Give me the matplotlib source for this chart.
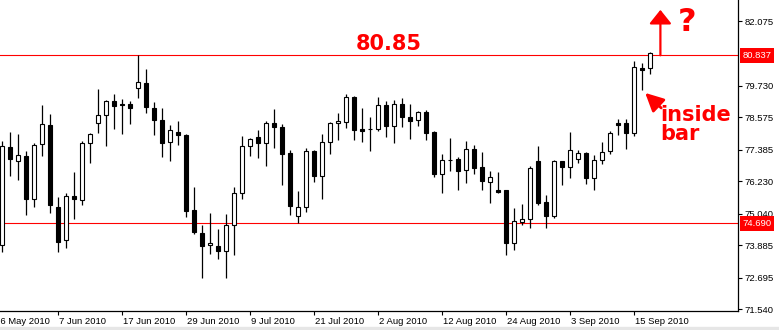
import matplotlib
matplotlib.use("Agg")
import matplotlib.pyplot as plt
import pandas as pd

# daily candles, 27 May 2010 .. 17 Sep 2010
opens = [73.89, 77.47, 76.96, 77.14, 75.56, 77.58, 78.28, 75.28, 74.06, 75.68,
         75.53, 77.62, 78.35, 78.64, 79.15, 79.06, 79.04, 79.63, 79.81, 78.90,
         78.46, 77.65, 78.03, 77.92, 75.17, 74.34, 73.89, 73.85, 73.67, 74.62,
         75.78, 77.51, 77.84, 77.61, 78.36, 78.21, 77.26, 74.95, 75.28, 77.34,
         76.43, 77.65, 78.35, 78.39, 79.31, 78.14, 78.13, 78.15, 79.02, 78.26,
         79.06, 78.58, 78.48, 78.76, 78.03, 76.51, 77.00, 77.04, 76.63, 77.41,
         76.75, 76.19, 75.90, 75.91, 73.96, 74.73, 74.84, 76.96, 75.47, 74.97,
         76.97, 76.74, 77.03, 77.26, 76.34, 77.00, 77.32, 78.36, 78.36, 78.01,
         80.36, 80.36]
highs = [77.70, 78.03, 77.96, 77.34, 77.62, 79.02, 78.69, 75.65, 75.79, 76.57,
         77.70, 78.00, 79.61, 79.19, 79.42, 79.24, 79.15, 80.84, 80.34, 79.13,
         78.90, 78.29, 78.43, 77.96, 76.02, 74.63, 75.07, 74.48, 75.03, 76.02,
         77.89, 77.81, 78.11, 78.45, 78.87, 78.32, 77.37, 75.87, 77.43, 77.36,
         77.97, 78.41, 78.73, 79.43, 79.35, 78.91, 78.58, 79.31, 79.17, 79.20,
         79.28, 79.06, 78.81, 78.84, 78.07, 77.23, 77.81, 77.12, 77.70, 77.56,
         77.30, 76.61, 76.57, 75.92, 75.25, 75.40, 76.79, 77.52, 75.73, 77.01,
         76.98, 78.03, 77.37, 77.28, 77.19, 77.67, 78.07, 78.51, 78.51, 80.63,
         80.57, 80.97]
lows = [73.65, 76.43, 76.29, 75.01, 75.30, 77.17, 75.08, 73.65, 73.80, 74.86,
        75.37, 76.91, 78.00, 77.50, 78.15, 77.97, 78.34, 79.29, 78.74, 77.93,
        77.13, 76.98, 77.56, 74.93, 74.29, 72.67, 73.58, 73.40, 72.70, 73.54,
        75.59, 77.15, 77.09, 76.80, 77.46, 76.10, 75.01, 74.69, 75.11, 76.19,
        75.56, 77.21, 77.75, 78.19, 77.75, 77.68, 77.35, 78.08, 77.86, 77.64,
        78.23, 77.79, 78.26, 77.75, 76.40, 75.81, 76.62, 75.92, 76.18, 76.51,
        75.92, 75.45, 75.81, 73.54, 73.73, 74.64, 74.53, 75.37, 74.50, 74.90,
        76.10, 76.33, 76.91, 76.14, 75.89, 76.87, 77.24, 77.93, 77.42, 77.90,
        79.58, 80.17]
closes = [77.51, 77.03, 77.18, 75.56, 77.54, 78.31, 75.37, 74.02, 75.68, 75.56,
          77.62, 77.95, 78.64, 79.15, 78.97, 79.01, 78.92, 79.85, 78.93, 78.46,
          77.64, 78.09, 77.91, 75.15, 74.36, 73.87, 73.97, 73.67, 74.62, 75.79,
          77.51, 77.76, 77.61, 78.35, 78.23, 77.24, 75.34, 75.29, 77.34, 76.43,
          77.67, 78.36, 78.43, 79.31, 78.12, 78.08, 78.13, 79.02, 78.26, 79.06,
          78.59, 78.45, 78.76, 78.01, 76.51, 77.01, 77.00, 76.62, 77.41, 76.73,
          76.22, 76.39, 75.84, 73.95, 74.76, 74.84, 76.71, 75.43, 74.97, 76.97,
          76.76, 77.36, 77.26, 76.33, 77.01, 77.30, 78.00, 78.30, 78.01, 80.40,
          80.31, 80.91]

dates = pd.bdate_range("2010-05-26", periods=len(opens) + 1)  # first one only labels
label_bars = list(range(-1, len(opens), 8))

resistance = 80.837
support = 74.690
yticks = [82.075, 79.730, 78.575, 77.385, 76.230, 75.040, 73.885, 72.695, 71.540]

fig = plt.figure(figsize=(7.79, 3.30), dpi=100)
ax = fig.add_axes([0, 19 / 330, 738 / 779, 311 / 330])
fig.patches.append(plt.Rectangle((0, 0), 1, 3 / 330, transform=fig.transFigure,
                                 color="#e6e6e6", zorder=0))

x = list(range(len(opens)))
ax.vlines(x, lows, highs, color="black", lw=0.9, zorder=2)
bottoms = [min(o, c) for o, c in zip(opens, closes)]
heights = [abs(c - o) for o, c in zip(opens, closes)]
faces = ["white" if c > o else "black" for o, c in zip(opens, closes)]
ax.bar(x, heights, bottom=bottoms, width=0.5, color=faces, edgecolor="black",
       linewidth=0.8, zorder=3)

for lvl in (resistance, support):
    ax.axhline(lvl, color="red", lw=0.8, zorder=1)

ax.set_xlim(-0.25, 92)
ax.set_ylim(71.48, 82.86)

for s in ("left", "top"):
    ax.spines[s].set_visible(False)
ax.spines["right"].set_linewidth(0.9)
ax.spines["bottom"].set_linewidth(0.9)

ax.yaxis.tick_right()
ax.set_yticks(yticks)
ax.set_yticklabels([f"{v:.3f}" for v in yticks])
ax.tick_params(axis="y", direction="out", length=3, width=0.8, pad=2,
               labelsize=6.8, labelfontfamily="Liberation Sans")
ax.set_xticks([b for b in label_bars if b >= 0])
ax.set_xticklabels([])
ax.tick_params(axis="x", direction="out", length=3, width=0.8)
for b in label_bars:
    d = dates[b + 1]
    ax.annotate(f"{d.day} {d:%b %Y}", xy=(b, 0), xycoords=("data", "axes fraction"),
                xytext=(1, -7.5), textcoords="offset points", ha="left", va="center",
                fontsize=6.8, family="Liberation Sans", annotation_clip=False)

# price boxes on the scale
for lvl in (resistance, support):
    ax.text(1.006, lvl, f"{lvl:.3f}", transform=ax.get_yaxis_transform(),
            ha="left", va="center", color="white", fontsize=6.8,
            family="Liberation Sans", zorder=5, clip_on=False,
            bbox=dict(boxstyle="square,pad=0.3", fc="red", ec="none"))

# annotations
ax.text(48.4, 80.9, "80.85", color="red", fontsize=15, fontweight="bold",
        ha="center", va="bottom")
ax.annotate("", xy=(82.3, 82.5), xytext=(82.3, resistance),
            arrowprops=dict(arrowstyle="-|>,head_length=0.85,head_width=0.68",
                            color="red", lw=1.6, shrinkA=0, shrinkB=0))
ax.text(85.6, 82.02, "?", color="red", fontsize=23, fontweight="bold",
        ha="center", va="center")
ax.annotate("", xy=(80.4, 79.46), xytext=(82.4, 78.91),
            arrowprops=dict(arrowstyle="-|>,head_length=1.1,head_width=0.55",
                            color="red", lw=2, shrinkA=0, shrinkB=0))
ax.text(82.25, 79.02, "inside\nbar", color="red", fontsize=15, fontweight="bold",
        ha="left", va="top", linespacing=0.95)

fig.savefig("out.png", dpi=100)
